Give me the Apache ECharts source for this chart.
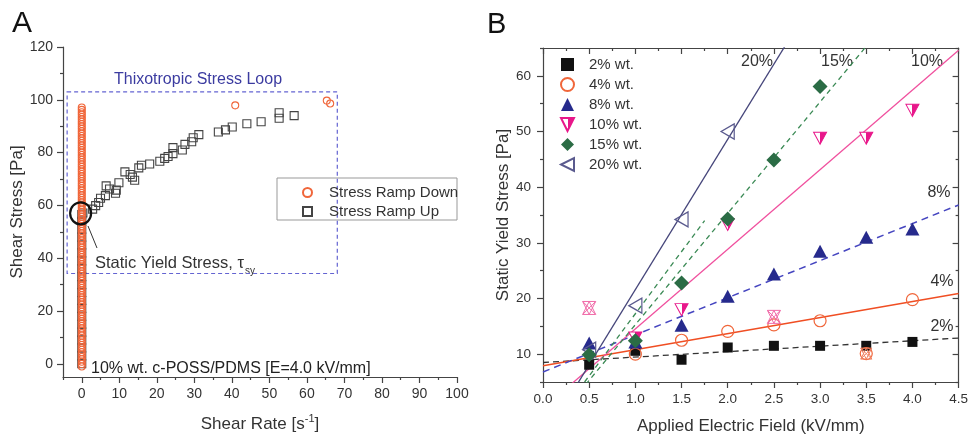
<!DOCTYPE html>
<html>
<head>
<meta charset="utf-8">
<script src="https://cdn.jsdelivr.net/npm/echarts@6.0.0/dist/echarts.min.js"></script>
<style>
html,body{margin:0;padding:0;background:#fff;}
#main{width:971px;height:440px;}
</style>
</head>
<body>
<div id="main"></div>
<script>
// ---- panel A data ----
var ticksAx = [0,10,20,30,40,50,60,70,80,90,100];
var minorAx = [-5,5,15,25,35,45,55,65,75,85,95];
var ticksAy = [0,20,40,60,80,100,120];
var minorAy = [10,30,50,70,90,110];
// stress ramp down: dense stack at zero shear rate, plus a few points at high rate
var downColY = [-1,-0.1,0.8,1.7,2.6,3.5,4.4,5.3,6.2,7.1,8.0,8.9,9.8,10.7,11.6,12.5,13.4,14.3,15.2,16.1,17.0,17.9,18.8,19.7,20.6,21.5,22.4,23.3,24.2,25.1,26.0,26.9,27.8,28.7,29.6,30.5,31.4,32.3,33.2,34.1,35.0,35.9,36.8,37.7,38.6,39.5,40.4,41.3,42.2,43.1,44.0,44.9,45.8,46.7,47.6,48.5,49.4,50.3,51.2,52.1,53.0,53.9,54.8,55.7,56.6,57.5,58.4,59.3,60.2,61.1,62.0,62.9,63.8,64.7,65.6,66.5,67.4,68.3,69.2,70.1,71.0,71.9,72.8,73.7,74.6,75.5,76.4,77.3,78.2,79.1,80.0,80.9,81.8,82.7,83.6,84.5,85.4,86.3,87.2,88.1,89.0,89.9,90.8,91.7,92.6,93.5,94.4,95.3,96.2,97.1];
var downExtra = [[40.9,97.9],[65.3,99.7],[66.2,98.6]];
// stress ramp up
var upColY = [0,3,6,9,12,15,18,21,24,27,30,33,36,39,42,45,48,51,54,56.5];
var upPts = [[0.3,57.1],[2.9,58.6],[3.7,59.9],[4.5,61.1],[5.0,62.7],[6.3,63.7],[6.5,67.4],[7.4,66.2],[9.0,64.6],[9.2,65.8],[9.9,68.6],[11.5,72.7],[12.9,71.7],[13.5,70.7],[14.1,69.5],[15.2,74.2],[15.9,75.2],[18.1,75.7],[20.8,76.7],[22.1,77.8],[23.0,78.5],[24.3,79.6],[24.3,81.9],[26.8,81.0],[27.5,83.1],[29.3,84.1],[29.7,85.6],[31.2,86.8],[36.4,87.8],[38.3,88.6],[40.1,89.7],[44.0,90.9],[47.8,91.7],[52.6,95.1],[52.6,93.0],[56.6,94.0]];
var loopBox = [[-3.9,103],[68.1,34.2]];
var yieldPt = [[-0.3,57]];

// ---- panel B data ----
var ticksBy = [10,20,30,40,50,60];
var minorBy = [5,15,25,35,45,55,65];
var x2 = [0.5,1.0,1.5,2.0,2.5,3.0,3.5,4.0];
var y2 = [8.1,10.6,9.0,11.2,11.5,11.5,11.5,12.2];
var x4 = [1.0,1.5,2.0,2.5,3.0,3.5,4.0];
var y4 = [10.0,12.5,14.1,15.25,16.0,10.1,19.8];
var x8 = [0.5,1.0,1.5,2.0,2.5,3.0,3.5,4.0];
var y8 = [12.0,12.2,15.2,20.4,24.4,28.5,31.0,32.5];
var x10 = [1.0,1.5,2.0,3.0,3.5,4.0];
var y10 = [12.9,18.0,33.3,48.8,48.8,53.8];
var x15 = [0.5,1.0,1.5,2.0,2.5,3.0];
var y15 = [9.9,12.4,22.8,34.3,44.9,58.1];
var x20 = [0.5,1.0,1.5,2.0];
var y20 = [10.8,18.7,34.2,50.0];
var crossPink = [[0.5,18.3],[2.5,16.7]];
var crossOrange = [[3.5,10.1]];
// fitted lines (end points)
var fit2 = [[0,8.5],[4.5,12.9]];
var fit4 = [[0,7.9],[4.5,20.9]];
var fit8 = [[0,6.8],[4.5,36.8]];
var fit10 = [[0.2,3.1],[4.5,64.6]];
var fit15 = [[0.4,3.3],[3.6,67.3]];
var fit15b = [[0.45,5],[1.75,34]];
var fit20 = [[0.3,2.7],[2.7,67.5]];
var lineLabels = ['20%','15%','10%','8%','4%','2%'];

function zip(xs, ys){ return xs.map(function(x,i){ return [x, ys[i]]; }); }

var ff = 'Liberation Sans, Arial, sans-serif';
var axCol = '#444';
var txtCol = '#333';

var myChart = echarts.init(document.getElementById('main'));

var halfFill = {type:'linear', x:0, y:0, x2:1, y2:0, colorStops:[
    {offset:0, color:'#fff'},{offset:0.5, color:'#fff'},
    {offset:0.5, color:'#e8178a'},{offset:1, color:'#e8178a'}]};

function bLine(data, color, type, width){
    return {type:'line', xAxisIndex:2, yAxisIndex:2, data:data, showSymbol:false, silent:true, z:1,
        lineStyle:{color:color, width:width||1.3, type:type}, clip:true};
}
function lbl(i, x, y){
    return {type:'text', x:x, y:y, style:{text:lineLabels[i], font:'16px ' + ff, fill:txtCol,
        align:'center', textAlign:'center', verticalAlign:'middle', textVerticalAlign:'middle'}};
}

var option = {
    animation:false,
    textStyle:{fontFamily:ff},
    grid:[
        {left:63, top:47, width:394, height:337},
        {left:543, top:48, width:418, height:336}
    ],
    legend:[
        {left:297, top:180, orient:'vertical', itemWidth:9, itemHeight:9, itemGap:4,
         textStyle:{fontSize:15, color:txtCol, lineHeight:15, padding:[0,0,0,12]},
         data:['Stress Ramp Down','Stress Ramp Up']},
        {left:555, top:52, orient:'vertical', itemWidth:13, itemHeight:13, itemGap:5,
         textStyle:{fontSize:15, color:txtCol, lineHeight:15, padding:[0,0,0,10]},
         data:['2% wt.','4% wt.','8% wt.','10% wt.','15% wt.','20% wt.']}
    ],
    xAxis:[
        {gridIndex:0, type:'value', min:-5, max:100, position:'bottom',
         name:'Shear Rate [s{sup|-1}]', nameLocation:'middle', nameGap:36,
         nameTextStyle:{fontSize:17, color:txtCol, lineHeight:22, rich:{sup:{fontSize:11, verticalAlign:'top', color:txtCol}}},
         axisLine:{onZero:false, lineStyle:{color:axCol, width:1.2}},
         axisTick:{customValues:ticksAx, length:6, lineStyle:{color:axCol, width:1.2}},
         axisLabel:{customValues:ticksAx, fontSize:14, color:txtCol, margin:10},
         splitLine:{show:false}},
        {gridIndex:0, type:'value', min:-5, max:100, position:'bottom', offset:0,
         axisLine:{show:false, onZero:false},
         axisTick:{customValues:minorAx, length:3, lineStyle:{color:axCol, width:1.2}},
         axisLabel:{show:false}, splitLine:{show:false}},
        {gridIndex:1, type:'value', min:0, max:4.5, interval:0.5, position:'bottom',
         name:'Applied Electric Field (kV/mm)', nameLocation:'middle', nameGap:36,
         nameTextStyle:{fontSize:17, color:txtCol},
         axisLine:{onZero:false, lineStyle:{color:axCol, width:1.2}},
         axisTick:{length:6, lineStyle:{color:axCol, width:1.2}},
         minorTick:{show:true, splitNumber:2, length:3, lineStyle:{color:axCol, width:1.2}},
         axisLabel:{fontSize:13.5, color:txtCol, margin:10, formatter:function(v){return v.toFixed(1);}},
         splitLine:{show:false}},
        {gridIndex:1, type:'value', min:0, max:4.5, interval:0.5, position:'top',
         axisLine:{onZero:false, lineStyle:{color:axCol, width:1.2}},
         axisTick:{inside:true, length:6, lineStyle:{color:axCol, width:1.2}},
         minorTick:{show:true, splitNumber:2, length:3, lineStyle:{color:axCol, width:1.2}},
         axisLabel:{show:false}, splitLine:{show:false}}
    ],
    yAxis:[
        {gridIndex:0, type:'value', min:-5, max:120, position:'left',
         name:'Shear Stress [Pa]', nameLocation:'middle', nameGap:37,
         nameTextStyle:{fontSize:17, color:txtCol},
         axisLine:{onZero:false, lineStyle:{color:axCol, width:1.2}},
         axisTick:{customValues:ticksAy, length:6, lineStyle:{color:axCol, width:1.2}},
         axisLabel:{customValues:ticksAy, fontSize:14, color:txtCol, margin:10},
         splitLine:{show:false}},
        {gridIndex:0, type:'value', min:-5, max:120, position:'left', offset:0,
         axisLine:{show:false, onZero:false},
         axisTick:{customValues:minorAy, length:3, lineStyle:{color:axCol, width:1.2}},
         axisLabel:{show:false}, splitLine:{show:false}},
        {gridIndex:1, type:'value', min:5, max:65, position:'left',
         name:'Static Yield Stress [Pa]', nameLocation:'middle', nameGap:31,
         nameTextStyle:{fontSize:17, color:txtCol},
         axisLine:{onZero:false, lineStyle:{color:axCol, width:1.2}},
         axisTick:{customValues:ticksBy, length:6, lineStyle:{color:axCol, width:1.2}},
         axisLabel:{customValues:ticksBy, fontSize:13.5, color:txtCol, margin:12},
         splitLine:{show:false}},
        {gridIndex:1, type:'value', min:5, max:65, position:'left', offset:0,
         axisLine:{show:false, onZero:false},
         axisTick:{customValues:minorBy, length:3, lineStyle:{color:axCol, width:1.2}},
         axisLabel:{show:false}, splitLine:{show:false}},
        {gridIndex:1, type:'value', min:5, max:65, position:'right',
         axisLine:{onZero:false, lineStyle:{color:axCol, width:1.2}},
         axisTick:{inside:true, customValues:ticksBy, length:6, lineStyle:{color:axCol, width:1.2}},
         axisLabel:{show:false}, splitLine:{show:false}},
        {gridIndex:1, type:'value', min:5, max:65, position:'right', offset:0,
         axisLine:{show:false, onZero:false},
         axisTick:{inside:true, customValues:minorBy, length:3, lineStyle:{color:axCol, width:1.2}},
         axisLabel:{show:false}, splitLine:{show:false}}
    ],
    series:[
        // ---- A ----
        {name:'Stress Ramp Up', type:'scatter', xAxisIndex:0, yAxisIndex:0, symbol:'rect', symbolSize:8,
         itemStyle:{color:'transparent', borderColor:'#444', borderWidth:1.1, opacity:1},
         data: upColY.map(function(y){return [0,y];}).concat(upPts),
         markArea:{silent:true, itemStyle:{color:'transparent', borderColor:'#6464d2', borderWidth:1.2, borderType:[4,3]},
            data:[[{coord:loopBox[0]},{coord:loopBox[1]}]]}},
        {name:'Stress Ramp Down', type:'scatter', xAxisIndex:0, yAxisIndex:0, symbol:'circle', symbolSize:7,
         itemStyle:{color:'transparent', borderColor:'#f0663a', borderWidth:1.1, opacity:1},
         data: downColY.map(function(y){return [0,y];}).concat(downExtra)},
        {name:'yield', type:'scatter', xAxisIndex:0, yAxisIndex:0, symbol:'circle', symbolSize:[21,22], silent:true,
         itemStyle:{color:'transparent', borderColor:'#111', borderWidth:2.2, opacity:1}, data:yieldPt, z:5},
        // ---- B lines ----
        bLine(fit2, '#333', [6,4]),
        bLine(fit4, '#f04e23', 'solid', 1.5),
        bLine(fit8, '#4646c0', [7,5], 1.5),
        bLine(fit10, '#f0509e', 'solid'),
        bLine(fit15, '#3b8a55', [5,4]),
        bLine(fit15b, '#3b8a55', [5,4]),
        bLine(fit20, '#45457a', 'solid'),
        // ---- B points ----
        {name:'2% wt.', type:'scatter', xAxisIndex:2, yAxisIndex:2, symbol:'rect', symbolSize:10,
         itemStyle:{color:'#111', opacity:1}, data:zip(x2,y2), z:3},
        {name:'4% wt.', type:'scatter', xAxisIndex:2, yAxisIndex:2, symbol:'circle', symbolSize:12,
         itemStyle:{color:'transparent', borderColor:'#f0663a', borderWidth:1.2, opacity:1}, data:zip(x4,y4), z:3},
        {name:'8% wt.', type:'scatter', xAxisIndex:2, yAxisIndex:2, symbol:'triangle', symbolSize:[14,13],
         itemStyle:{color:'#262a8c', opacity:1}, data:zip(x8,y8), z:3},
        {name:'10% wt.', type:'scatter', xAxisIndex:2, yAxisIndex:2, symbol:'path://M0,0 L2,0 L1,2 Z', symbolSize:[13,12],
         itemStyle:{color:halfFill, borderColor:'#e8178a', borderWidth:1, opacity:1}, data:zip(x10,y10), z:4},
        {name:'15% wt.', type:'scatter', xAxisIndex:2, yAxisIndex:2, symbol:'diamond', symbolSize:[15,15],
         itemStyle:{color:'#2b6c45', opacity:1}, data:zip(x15,y15), z:5},
        {name:'20% wt.', type:'scatter', xAxisIndex:2, yAxisIndex:2, symbol:'path://M2,0 L2,2 L0,1 Z', symbolSize:[13,15],
         itemStyle:{color:'transparent', borderColor:'#5a5a8e', borderWidth:1.3, opacity:1}, data:zip(x20,y20), z:4},
        {name:'excluded', type:'scatter', xAxisIndex:2, yAxisIndex:2, silent:true,
         symbol:'path://M0,0 L2,0 L1,2 Z M0,2 L2,2 L1,0 Z M0,0 L2,2 M2,0 L0,2', symbolSize:[13,13],
         itemStyle:{color:'transparent', borderColor:'#f06aa8', borderWidth:1, opacity:1}, data:crossPink, z:6},
        {name:'excluded2', type:'scatter', xAxisIndex:2, yAxisIndex:2, silent:true,
         symbol:'path://M0,0 L2,0 L1,2 Z M0,2 L2,2 L1,0 Z M0,0 L2,2 M2,0 L0,2', symbolSize:[11,11],
         itemStyle:{color:'transparent', borderColor:'#f08060', borderWidth:1, opacity:1}, data:crossOrange, z:6}
    ],
    graphic:[
        {type:'text', left:12, top:9, style:{text:'A', font:'30px ' + ff, fill:'#111'}},
        {type:'text', left:487, top:10, style:{text:'B', font:'29px ' + ff, fill:'#111'}},
        {type:'text', x:198, y:80, style:{text:'Thixotropic Stress Loop', font:'16px ' + ff, fill:'#3b3ba0',
            align:'center', textAlign:'center', verticalAlign:'middle', textVerticalAlign:'middle'}},
        {type:'rect', shape:{x:277, y:178, width:180, height:42}, style:{fill:'none', stroke:'#999', lineWidth:1}},
        {type:'line', shape:{x1:88, y1:226, x2:97, y2:248}, style:{stroke:'#333', lineWidth:1}},
        {type:'text', x:95, y:263, style:{text:'Static Yield Stress, \u03c4', font:'16.5px ' + ff, fill:txtCol,
            verticalAlign:'middle', textVerticalAlign:'middle'}},
        {type:'text', x:245, y:271, style:{text:'sy', font:'10px ' + ff, fill:txtCol,
            verticalAlign:'middle', textVerticalAlign:'middle'}},
        {type:'text', x:91, y:369, style:{text:'10% wt. c-POSS/PDMS [E=4.0 kV/mm]', font:'16px ' + ff, fill:'#222',
            verticalAlign:'middle', textVerticalAlign:'middle'}},
        lbl(0, 757, 62), lbl(1, 837, 62), lbl(2, 927, 62),
        lbl(3, 939, 193), lbl(4, 942, 282), lbl(5, 942, 327)
    ]
};
myChart.setOption(option);
</script>
</body>
</html>
